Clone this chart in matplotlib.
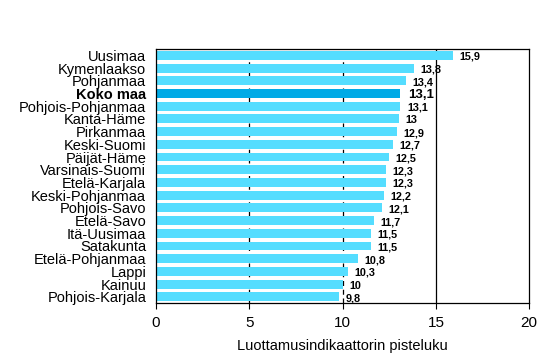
import matplotlib.pyplot as plt
import numpy as np

plt.rcParams['font.family'] = ['Liberation Sans', 'DejaVu Sans']

regions = ['Uusimaa', 'Kymenlaakso', 'Pohjanmaa', 'Koko maa', 'Pohjois-Pohjanmaa',
           'Kanta-Häme', 'Pirkanmaa', 'Keski-Suomi', 'Päijät-Häme', 'Varsinais-Suomi',
           'Etelä-Karjala', 'Keski-Pohjanmaa', 'Pohjois-Savo', 'Etelä-Savo',
           'Itä-Uusimaa', 'Satakunta', 'Etelä-Pohjanmaa', 'Lappi', 'Kainuu',
           'Pohjois-Karjala']
values = [15.9, 13.8, 13.4, 13.1, 13.1, 13.0, 12.9, 12.7, 12.5, 12.3,
          12.3, 12.2, 12.1, 11.7, 11.5, 11.5, 10.8, 10.3, 10.0, 9.8]
total_label = 'Koko maa'


def fmt(v):
    s = f'{v:.1f}'
    if s.endswith('.0'):
        s = s[:-2]
    return s.replace('.', ',')


fig = plt.figure(figsize=(5.53, 3.55), dpi=100)
ax = fig.add_axes([0.282, 0.146, 0.675, 0.716])

y = np.arange(len(regions))
colors = ['#00AAE6' if r == total_label else '#55DDFF' for r in regions]
ax.barh(y, values, height=0.7, color=colors, zorder=2)

for yi, v, r in zip(y, values, regions):
    if r == total_label:
        ax.text(v + 0.4, yi + 0.1, fmt(v), fontsize=9.5, fontweight='bold',
                va='center', ha='left', zorder=3)
    else:
        ax.text(v + 0.35, yi + 0.12, fmt(v), fontsize=7.8, fontweight='bold',
                va='center', ha='left', zorder=3)

ax.set_xlim(0, 20)
ax.set_ylim(len(regions) - 0.5, -0.5)
ax.set_xticks([0, 5, 10, 15, 20])
ax.set_yticks(y)
ax.set_yticklabels(regions, fontsize=10.5)
for lbl in ax.get_yticklabels():
    if lbl.get_text() == total_label:
        lbl.set_fontweight('bold')
ax.tick_params(axis='y', length=0, pad=7)
ax.tick_params(axis='x', length=4, direction='out', labelsize=11, pad=5)

for gx in [5, 10]:
    ax.axvline(gx, color='black', lw=0.9, ls=(0, (4, 3)), zorder=1)
ax.axvline(15, color='black', lw=0.9, zorder=1)

for sp in ax.spines.values():
    sp.set_linewidth(0.9)

ax.set_xlabel('Luottamusindikaattorin pisteluku', fontsize=10.5, labelpad=7)

fig.savefig('out.png', dpi=100)
